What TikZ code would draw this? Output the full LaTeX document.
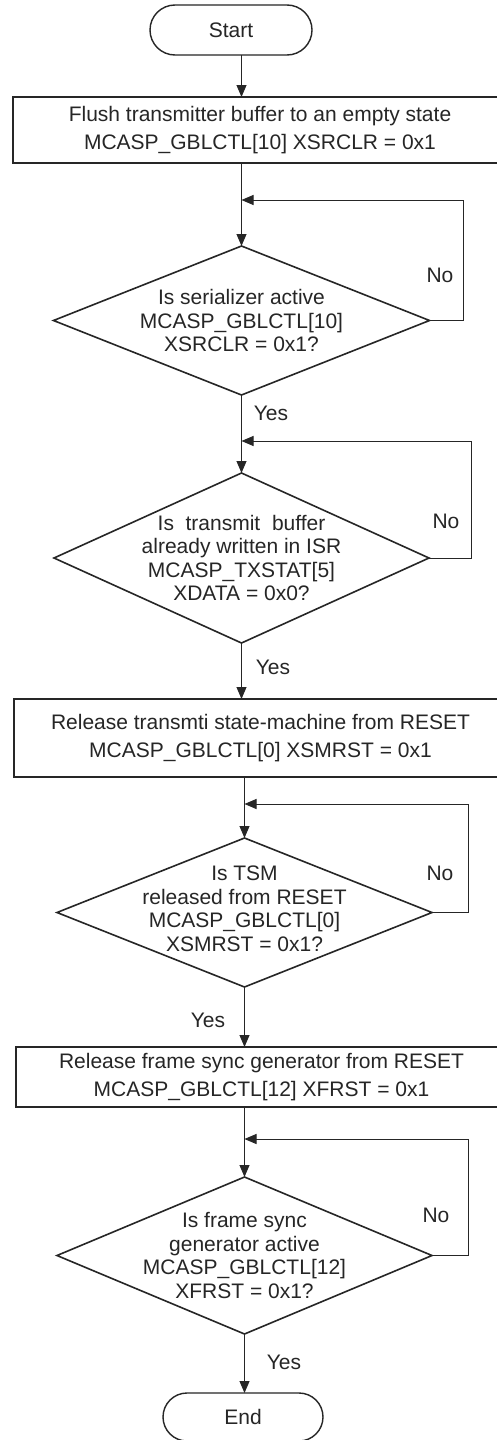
\documentclass[tikz,border=0pt]{standalone}
\usepackage{fontspec}
\setmainfont{Liberation Sans}
\usetikzlibrary{shapes.geometric,shapes.misc,arrows.meta}
\definecolor{ink}{gray}{0.15}
\tikzset{
  term/.style={rounded rectangle, draw=ink, line width=1.4pt, inner sep=0pt, outer sep=0pt,
    font=\fontsize{21}{25}\selectfont, text=ink},
  procbox/.style={rectangle, draw=ink, line width=2.4pt, inner sep=0pt, outer sep=0pt, align=center,
    font=\fontsize{21}{28}\selectfont, text=ink},
  decision/.style={diamond, draw=ink, line width=1.6pt, inner sep=0pt, outer sep=0pt},
  dtext/.style={align=center, font=\fontsize{21}{23.5}\selectfont, text=ink, inner sep=0pt},
  flow/.style={draw=ink, line width=1pt, -{Triangle[length=12pt,width=10pt]}},
  lbl/.style={font=\fontsize{21}{25}\selectfont, text=ink, inner sep=0pt},
}
\begin{document}
\begin{tikzpicture}[x=1pt,y=-1pt]
\useasboundingbox (0,0) rectangle (496,1440);
\fill[white] (0,0) rectangle (496,1440);

% nodes
\node[term, minimum width=162pt, minimum height=50pt] (start) at (231,30) {Start};
\node[procbox, minimum width=494pt, minimum height=66pt] (b1) at (260,130)
  {Flush transmitter buffer to an empty state\\MCASP\_GBLCTL[10] XSRCLR = 0x1};
\node[decision, minimum width=376pt, minimum height=149pt] (d1) at (241.5,320.5) {};
\node[dtext] (d1t) at (d1.center) {Is serializer active\\MCASP\_GBLCTL[10]\\XSRCLR = 0x1?};
\node[decision, minimum width=375pt, minimum height=170pt] (d2) at (241.5,558) {};
\node[dtext] (d2t) at (d2.center) {Is\ \ transmit\ \ buffer\\already written in ISR\\MCASP\_TXSTAT[5]\\XDATA = 0x0?};
\node[procbox, minimum width=493pt, minimum height=78pt] (b2) at (260.5,738)
  {Release transmti state-machine from RESET\\MCASP\_GBLCTL[0] XSMRST = 0x1};
\node[decision, minimum width=375pt, minimum height=149pt] (d3) at (244.5,912.5) {};
\node[dtext] (d3t) at (244.5,909) {Is TSM\\released from RESET\\MCASP\_GBLCTL[0]\\XSMRST = 0x1?};
\node[procbox, minimum width=491pt, minimum height=60pt] (b3) at (261.5,1077)
  {Release frame sync generator from RESET\\MCASP\_GBLCTL[12] XFRST = 0x1};
\node[decision, minimum width=375pt, minimum height=157pt] (d4) at (244.5,1255.5) {};
\node[dtext] (d4t) at (d4.center) {Is frame sync\\generator active\\MCASP\_GBLCTL[12]\\XFRST = 0x1?};
\node[term, minimum width=160pt, minimum height=48pt] (end) at (243,1417) {End};

% junctions
\coordinate (j1) at (241.5,200);  \coordinate (l1) at (463,200);
\coordinate (j2) at (241.5,441);  \coordinate (l2) at (471,441);
\coordinate (j3) at (244.5,804);  \coordinate (l3) at (468,804);
\coordinate (j4) at (244.5,1139); \coordinate (l4) at (468,1139);

% main flow
\draw[flow] (start.south -| j1) -- (b1.north -| j1);
\draw[flow] (b1.south -| d1.north) -- (d1.north);
\draw[flow] (d1.south) -- (d2.north);
\draw[flow] (d2.south) -- (b2.north -| d2.south);
\draw[flow] (b2.south -| d3.north) -- (d3.north);
\draw[flow] (d3.south) -- (b3.north -| d3.south);
\draw[flow] (b3.south -| d4.north) -- (d4.north);
\draw[flow] (d4.south) -- (end.north -| d4.south);

% loops
\draw[flow] (d1.east) -| (l1) -- (j1);
\draw[flow] (d2.east) -| (l2) -- (j2);
\draw[flow] (d3.east) -| (l3) -- (j3);
\draw[flow] (d4.east) -| (l4) -- (j4);

% labels
\node[lbl] (no1) at (440,275) {No};
\node[lbl] (no2) at (446,521) {No};
\node[lbl] (no3) at (440,873) {No};
\node[lbl] (no4) at (436,1215) {No};
\node[lbl] (yes1) at (271,413) {Yes};
\node[lbl] (yes2) at (273,667) {Yes};
\node[lbl] (yes3) at (208,1020) {Yes};
\node[lbl] (yes4) at (284,1362) {Yes};
\end{tikzpicture}
\end{document}
